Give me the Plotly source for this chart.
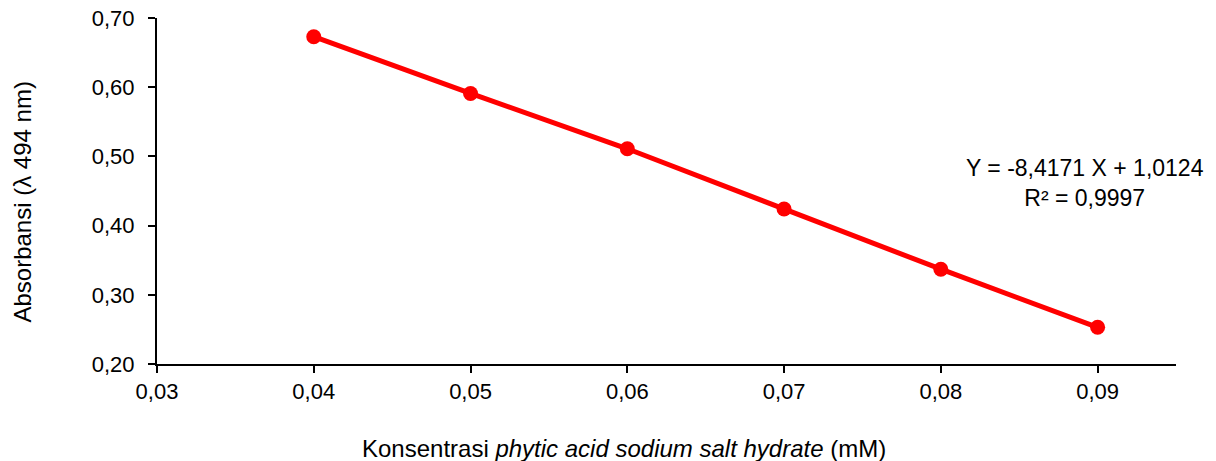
import plotly.graph_objects as go

konsentrasi = [0.04, 0.05, 0.06, 0.07, 0.08, 0.09]
absorbansi = [0.673, 0.591, 0.511, 0.424, 0.337, 0.253]
x_ticks = [0.03, 0.04, 0.05, 0.06, 0.07, 0.08, 0.09]
y_ticks = [0.20, 0.30, 0.40, 0.50, 0.60, 0.70]
x_title = "Konsentrasi <i>phytic acid sodium salt hydrate</i> (mM)"
y_title = "Absorbansi (λ 494 nm)"
equation_text = "Y = -8,4171 X + 1,0124<br>R² = 0,9997"

FONT = "Liberation Sans, Arial, sans-serif"

fig = go.Figure()
fig.add_trace(go.Scatter(
    x=konsentrasi, y=absorbansi, mode="lines+markers",
    line=dict(color="#FF0000", width=5),
    marker=dict(color="#FF0000", size=15),
    showlegend=False,
))

axis_common = dict(
    showline=True, linecolor="black", linewidth=2,
    ticks="outside", ticklen=7, tickwidth=2, tickcolor="black",
    showgrid=False, zeroline=False, automargin=False,
    ticklabeloverflow="allow",
    tickfont=dict(family=FONT, size=22, color="black"),
)

fig.update_xaxes(range=[0.03, 0.095], tickvals=x_ticks, tickformat=".2f", **axis_common)
fig.update_yaxes(range=[0.20, 0.70], tickvals=y_ticks, tickformat=".2f",
                 ticklabelstandoff=9, **axis_common)

fig.add_annotation(
    text=x_title, xref="paper", yref="paper",
    x=0.4583, y=-0.2428, xanchor="center", yanchor="middle",
    showarrow=False, font=dict(family=FONT, size=24, color="black"),
)
fig.add_annotation(
    text=y_title, xref="paper", yref="paper", textangle=-90,
    x=-0.132, y=0.468, xanchor="center", yanchor="middle",
    showarrow=False, font=dict(family=FONT, size=24, color="black"),
)
fig.add_annotation(
    text=equation_text, xref="paper", yref="paper",
    x=0.9107, y=0.523, xanchor="center", yanchor="middle",
    showarrow=False, align="center",
    font=dict(family=FONT, size=23, color="black"),
)

fig.update_layout(
    width=1216, height=461,
    margin=dict(l=157, r=40, t=18, b=97),
    plot_bgcolor="white", paper_bgcolor="white",
    separators=",.",
)

fig.write_html(
    "out.html",
    config={"displayModeBar": False},
    post_script="document.body.style.margin='0';document.body.style.overflow='hidden';",
)
